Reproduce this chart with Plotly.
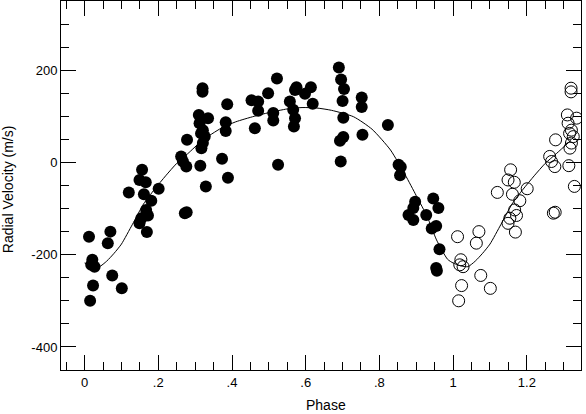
import plotly.graph_objects as go

# Observed radial velocities (phase 0-1)
phase = [0.012, 0.021, 0.018, 0.027, 0.023, 0.015, 0.063, 0.070, 0.075, 0.101,
         0.120, 0.156, 0.149, 0.166, 0.161, 0.181, 0.201, 0.167, 0.172, 0.154,
         0.149, 0.169, 0.262, 0.267, 0.276, 0.272, 0.277, 0.278, 0.314, 0.329,
         0.310, 0.335, 0.312, 0.321, 0.316, 0.326, 0.321, 0.317, 0.320, 0.320,
         0.373, 0.389, 0.387, 0.383, 0.383, 0.453, 0.471, 0.471, 0.462, 0.498,
         0.512, 0.512, 0.522, 0.525, 0.557, 0.571, 0.575, 0.566, 0.571, 0.568,
         0.598, 0.614, 0.619, 0.690, 0.696, 0.704, 0.700, 0.702, 0.702, 0.693,
         0.695, 0.752, 0.752, 0.754, 0.823, 0.852, 0.858, 0.856, 0.897, 0.892,
         0.879, 0.892, 0.927, 0.946, 0.960, 0.942, 0.954, 0.963, 0.954, 0.956]
velocity = [-161, -211, -222, -226, -267, -300, -175, -150, -245, -273,
            -65, -16, -38, -43, -69, -83, -57, -103, -115, -121,
            -132, -151, 13, 2, -9, -110, -108, 49, -7, -52,
            103, 96, 85, 70, 63, 56, 42, 31, 161, 153,
            8, -33, 126, 87, 68, 135, 132, 112, 74, 150,
            107, 91, 182, -5, 132, 157, 163, 114, 96, 78,
            149, 163, 127, 206, 180, 159, 133, 97, 55, 47,
            2, 141, 120, 60, 81, -5, -10, -28, -85, -99,
            -114, -125, -114, -78, -99, -143, -138, -188, -229, -235]

# Fitted orbit curve (phase 0-1)
curve_phase = [0.00, 0.02, 0.04, 0.06, 0.08, 0.10, 0.13, 0.16, 0.19, 0.22,
               0.25, 0.28, 0.32, 0.37, 0.41, 0.46, 0.50, 0.55, 0.59, 0.63,
               0.67, 0.73, 0.78, 0.83, 0.87, 0.90, 0.93, 0.955, 0.985, 1.00]
curve_vel = [-218, -224, -226, -214, -197, -177, -134, -90, -58, -29,
             -2, 19, 48, 74, 88, 100, 108, 116, 119, 118,
             113, 99, 72, 27, -27, -72, -118, -168, -210, -218]

x_tickvals = [0, 0.2, 0.4, 0.6, 0.8, 1, 1.2]
x_ticktext = ["0", ".2", ".4", ".6", ".8", "1", "1.2"]
y_tickvals = [-400, -200, 0, 200]
y_ticktext = ["-400", "-200", "0", "200"]

X_MAX = 1.347
# repeated phases beyond 1
rep_phase = [p + 1 for p in phase if p + 1 <= X_MAX]
rep_vel = [v for p, v in zip(phase, velocity) if p + 1 <= X_MAX]
curve_x = curve_phase + [p + 1 for p in curve_phase[1:] if p + 1 <= X_MAX + 0.02]
curve_y = curve_vel + [v for p, v in zip(curve_phase[1:], curve_vel[1:]) if p + 1 <= X_MAX + 0.02]

fig = go.Figure()
fig.add_trace(go.Scatter(x=curve_x, y=curve_y, mode="lines",
                         line=dict(color="black", width=1, shape="spline", smoothing=0.6),
                         hoverinfo="skip"))
fig.add_trace(go.Scatter(x=phase, y=velocity, mode="markers",
                         marker=dict(symbol="circle", size=12, color="black",
                                     line=dict(width=0))))
fig.add_trace(go.Scatter(x=rep_phase, y=rep_vel, mode="markers",
                         marker=dict(symbol="circle-open", size=12, color="black",
                                     line=dict(width=1))))

font = "Liberation Sans, Arial, Helvetica, sans-serif"
fig.update_layout(
    width=586, height=414,
    margin=dict(l=61, r=5, t=1, b=44, autoexpand=False),
    paper_bgcolor="white", plot_bgcolor="white",
    showlegend=False,
    font=dict(family=font, size=13, color="black"),
    annotations=[
        dict(text="Phase", xref="paper", yref="paper", x=0.51, y=0,
             yshift=-45, xanchor="center", yanchor="bottom",
             showarrow=False, font=dict(size=14)),
        dict(text="Radial Velocity (m/s)", xref="paper", yref="paper",
             x=0, xshift=-63, y=0.49, xanchor="left", yanchor="middle",
             textangle=-90, showarrow=False, font=dict(size=14)),
    ],
)
fig.update_xaxes(
    range=[-0.064, X_MAX], tickvals=x_tickvals, ticktext=x_ticktext,
    ticks="inside", ticklen=15, tickwidth=1, tickcolor="black",
    minor=dict(dtick=0.05, tick0=0, ticks="inside", ticklen=8, tickcolor="black", tickwidth=1),
    showline=True, linecolor="black", linewidth=1, mirror="ticks",
    showgrid=False, zeroline=False, automargin=False,
    tickfont=dict(size=13),
)
fig.update_yaxes(
    range=[-450, 350], tickvals=y_tickvals, ticktext=y_ticktext,
    ticks="inside", ticklen=15, tickwidth=1, tickcolor="black",
    minor=dict(dtick=50, tick0=0, ticks="inside", ticklen=8, tickcolor="black", tickwidth=1),
    showline=True, linecolor="black", linewidth=1, mirror="ticks",
    showgrid=False, zeroline=False, automargin=False,
    tickfont=dict(size=13),
)

fig.write_html("out.html", config={"displayModeBar": False},
               post_script="document.body.style.margin='0';document.body.style.padding='0';")
